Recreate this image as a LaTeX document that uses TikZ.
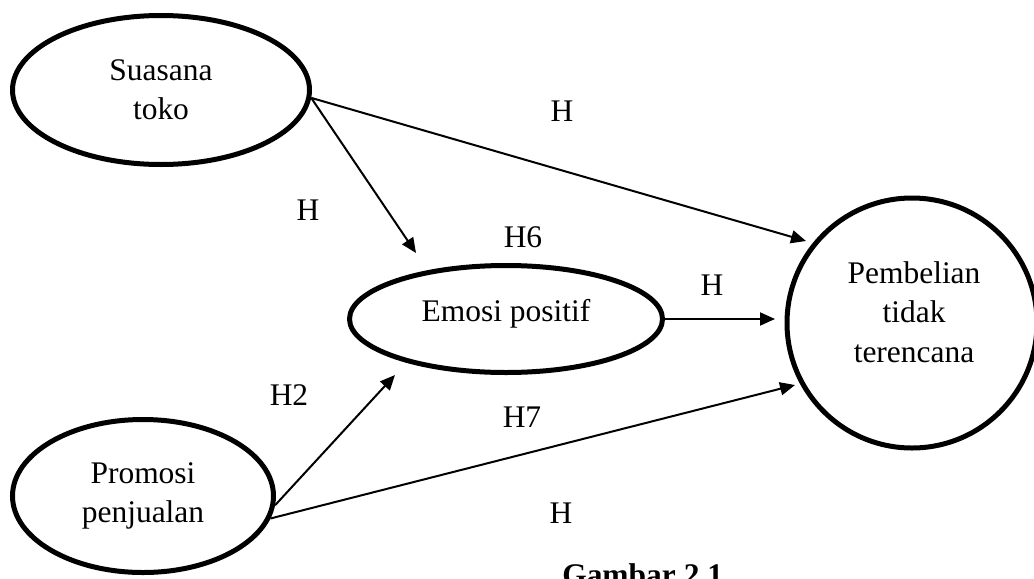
\documentclass[tikz,border=0pt]{standalone}
\usepackage{fontspec}
\setmainfont{Liberation Serif}
\usetikzlibrary{shapes.geometric,arrows.meta}
\tikzset{
  big/.style={font=\fontsize{23.6pt}{29.6pt}\selectfont},
  var/.style={draw, ellipse, line width=3.75pt, inner sep=0pt, align=center, big},
  lab/.style={inner sep=0pt, big},
  conn/.style={line width=1.5pt, -{Triangle[length=11.25pt,width=9.75pt]}}
}
\begin{document}
\begin{tikzpicture}[x=0.75pt,y=-0.75pt]
\useasboundingbox (0,0) rectangle (1034,578);
% variables
\node[var, minimum width=222.75pt, minimum height=111.75pt] (suasana) at (161,90) {Suasana\\toko};
\node[var, minimum width=195.75pt, minimum height=114.75pt] (promosi) at (143,496) {Promosi\\penjualan};
\node[var, minimum width=234.75pt, minimum height=80.25pt] (emosi) at (506,319) {};
\node[lab] (emositext) at (506,314) {Emosi positif};
\node[draw, circle, line width=3.75pt, inner sep=0pt, minimum size=187.5pt] (pemb) at (912,323) {};
\node[lab, align=center] (pembtext) at (914,312) {Pembelian\\tidak\\terencana};
% arrow tips
\coordinate (tA) at (806,241);
\coordinate (tB) at (416,253);
\coordinate (tC) at (775,319);
\coordinate (tD) at (395,375);
\coordinate (tE) at (795,385);
% connectors
\draw[conn] (suasana.-3) -- (tA);
\draw[conn] (suasana.-3) -- (tB);
\draw[conn] (emosi.east) -- (tC);
\draw[conn] (promosi.-4) -- (tD);
\draw[conn] (promosi.-10) -- (tE);
% labels
\node[lab] (h1) at (562,111) {H};
\node[lab] (h2) at (308,210) {H};
\node[lab] (h6) at (523,237) {H6};
\node[lab] (h3) at (712,285) {H};
\node[lab] (hh2) at (289,395) {H2};
\node[lab] (h7) at (522,417) {H7};
\node[lab] (h4) at (561,513) {H};
\node[lab, font=\fontsize{23.6pt}{29.6pt}\selectfont\bfseries, anchor=north west] (cap) at (562,563) {Gambar 2.1};
\end{tikzpicture}
\end{document}
